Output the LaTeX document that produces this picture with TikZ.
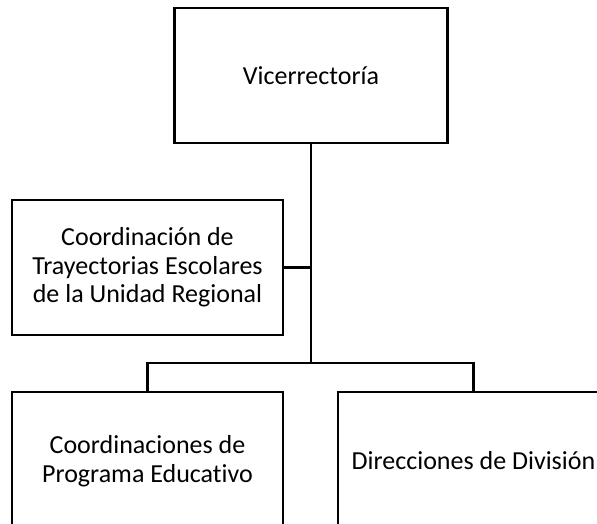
\documentclass[tikz,border=0pt]{standalone}
\usepackage{fontspec}
\setmainfont[Ligatures=NoCommon]{Carlito}
\begin{document}
\begin{tikzpicture}[x=1pt,y=-1pt,
  orgbox/.style={draw=black,line width=2.6pt,rectangle,inner sep=0pt,align=center,
    font=\fontsize{26}{28.5}\selectfont},
  link/.style={draw=black,line width=2.6pt}]
\useasboundingbox (0,0) rectangle (597,523);
\clip (0,0) rectangle (597,523);
\node[orgbox,minimum width=273pt,minimum height=135pt] (top) at (311,75.5) {Vicerrectoría};
\node[orgbox,minimum width=271pt,minimum height=135pt] (mid) at (147.5,267.5)
  {Coordinación de\\Trayectorias Escolares\\de la Unidad Regional};
\node[orgbox,minimum width=271pt,minimum height=138pt] (bl) at (147.5,461)
  {Coordinaciones de\\Programa Educativo};
\node[orgbox,minimum width=271pt,minimum height=138pt] (br) at (473.5,461)
  {Direcciones de División};
\coordinate (bar) at (311,363);
\draw[link] (top.south) -- (bar);
\draw[link] (mid.east) -- (mid.east -| bar);
\draw[link] (bl.north) -- (bl.north |- bar) -- (br.north |- bar) -- (br.north);
\end{tikzpicture}
\end{document}
